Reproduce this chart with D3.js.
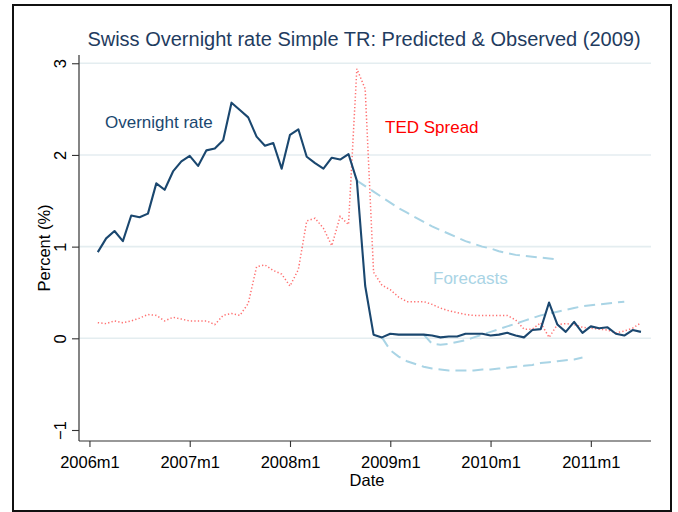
<!DOCTYPE html>
<html>
<head>
<meta charset="utf-8">
<script src="https://cdn.jsdelivr.net/npm/d3@7"></script>
<style>
  html, body { margin: 0; padding: 0; background: #fff; }
  svg { display: block; }
  text { font-family: "Liberation Sans", Arial, Helvetica, sans-serif; }
</style>
</head>
<body>
<svg id="chart" width="678" height="512"></svg>
<script>
// ---- data (month index: 0 = 2006m1) ----
const overnightStart = 1; // 2006m2
const overnight = [
  0.94, 1.09, 1.17, 1.06, 1.34, 1.32, 1.36, 1.69, 1.62, 1.82, 1.93,
  1.99, 1.88, 2.05, 2.07, 2.16, 2.57, 2.49, 2.41, 2.20, 2.10, 2.13, 1.85,
  2.22, 2.28, 1.98, 1.91, 1.85, 1.97, 1.95, 2.01, 1.72, 0.57, 0.04, 0.01,
  0.05, 0.04, 0.04, 0.04, 0.04, 0.03, 0.01, 0.02, 0.02, 0.05, 0.05, 0.05,
  0.03, 0.04, 0.06, 0.03, 0.01, 0.09, 0.10, 0.39, 0.15, 0.07, 0.18, 0.06,
  0.13, 0.11, 0.12, 0.05, 0.03, 0.09, 0.07
];
const tedStart = 1;
const ted = [
  0.17, 0.16, 0.19, 0.17, 0.19, 0.22, 0.26, 0.25, 0.19, 0.23, 0.21,
  0.19, 0.19, 0.19, 0.15, 0.25, 0.27, 0.25, 0.38, 0.78, 0.80, 0.74, 0.70,
  0.57, 0.75, 1.28, 1.31, 1.20, 1.01, 1.33, 1.24, 2.94, 2.72, 0.72, 0.58,
  0.53, 0.45, 0.40, 0.40, 0.40, 0.37, 0.33, 0.30, 0.28, 0.26, 0.25, 0.25,
  0.25, 0.25, 0.25, 0.20, 0.10, 0.10, 0.17, 0.01, 0.15, 0.16, 0.15, 0.12,
  0.11, 0.10, 0.09, 0.06, 0.08, 0.11, 0.17
];
const forecast1Start = 32; // 2008m9
const forecast1 = [
  1.72, 1.66, 1.60, 1.54, 1.48, 1.42, 1.37, 1.32, 1.27, 1.22, 1.18, 1.14,
  1.10, 1.06, 1.03, 1.00, 0.98, 0.95, 0.93, 0.91, 0.90, 0.89, 0.88, 0.87, 0.86
];
const forecast2Start = 35; // 2008m12
const forecast2 = [
  0.01, -0.13, -0.20, -0.25, -0.28, -0.31, -0.33, -0.34, -0.35, -0.35, -0.35,
  -0.35, -0.34, -0.34, -0.33, -0.32, -0.31, -0.30, -0.29, -0.27, -0.26, -0.25,
  -0.24, -0.23, -0.21
];
const forecast3Start = 40; // 2009m5
const forecast3 = [
  0.04, -0.06, -0.07, -0.06, -0.04, -0.02, 0.01, 0.04, 0.07, 0.10, 0.13, 0.16,
  0.19, 0.22, 0.25, 0.27, 0.29, 0.31, 0.33, 0.35, 0.36, 0.37, 0.38, 0.39, 0.40
];
const xTickMonths = [0, 12, 24, 36, 48, 60];
const xTickLabels = ["2006m1", "2007m1", "2008m1", "2009m1", "2010m1", "2011m1"];
const yTicks = [-1, 0, 1, 2, 3];

const titleText = "Swiss Overnight rate Simple TR: Predicted & Observed (2009)";

// ---- layout ----
const svg = d3.select("#chart");
const x = d3.scaleLinear().domain([-1.25, 67.2]).range([79, 651]);
const y = d3.scaleLinear().domain([-1.12, 3.09]).range([441, 55]);

const navy = "#1a476f";
const red = "#ff4040";
const ltblue = "#a9d4e5";

// outer frame
svg.append("rect").attr("x", 13).attr("y", 5).attr("width", 658).attr("height", 506)
  .attr("fill", "#fff").attr("stroke", "#111").attr("stroke-width", 2);

// title
svg.append("text").attr("x", 364).attr("y", 46).attr("text-anchor", "middle")
  .attr("font-size", 20).attr("fill", "#1f3c60").text(titleText);

// gridlines
svg.append("g").selectAll("line").data(yTicks.filter(d => d !== -1)).join("line")
  .attr("x1", x.range()[0]).attr("x2", x.range()[1])
  .attr("y1", d => y(d)).attr("y2", d => y(d))
  .attr("stroke", "#e4edf0").attr("stroke-width", 1.6);

// axes
const yAxis = d3.axisLeft(y).tickValues(yTicks).tickSize(7).tickPadding(4).tickFormat(d3.format("d"));
const gy = svg.append("g").attr("transform", `translate(${x.range()[0]},0)`).call(yAxis);
gy.select(".domain").attr("d", `M0,${y.range()[1]}V${y.range()[0]}`).attr("stroke", "#333").attr("stroke-width", 1.2);
gy.selectAll(".tick line").attr("stroke", "#333").attr("stroke-width", 1.1);
gy.selectAll(".tick text")
  .attr("font-size", 16.5).attr("fill", "#000").attr("x", null).attr("dy", null)
  .attr("text-anchor", "middle")
  .attr("transform", "translate(-13,0) rotate(-90)");

const xAxis = d3.axisBottom(x).tickValues(xTickMonths).tickSize(6).tickPadding(5)
  .tickFormat((d, i) => xTickLabels[i]);
const gx = svg.append("g").attr("transform", `translate(0,${y.range()[0]})`).call(xAxis);
gx.select(".domain").attr("d", `M${x.range()[0]},0H${x.range()[1]}`).attr("stroke", "#333").attr("stroke-width", 1.2);
gx.selectAll(".tick line").attr("stroke", "#333").attr("stroke-width", 1.1);
gx.selectAll(".tick text").attr("font-size", 16.5).attr("fill", "#000").attr("dy", "0.95em");

// axis titles
svg.append("text").attr("transform", `translate(49.5,${(y.range()[0] + y.range()[1]) / 2}) rotate(-90)`)
  .attr("text-anchor", "middle").attr("font-size", 16.5).attr("fill", "#000").text("Percent (%)");
svg.append("text").attr("x", (x.range()[0] + x.range()[1]) / 2 + 2).attr("y", 486)
  .attr("text-anchor", "middle").attr("font-size", 16.5).attr("fill", "#000").text("Date");

// series
const line = d3.line().x(d => x(d[0])).y(d => y(d[1]));
const toPts = (start, vals) => vals.map((v, i) => [start + i, v]);

svg.append("path").datum(toPts(tedStart, ted)).attr("d", line)
  .attr("fill", "none").attr("stroke", red).attr("stroke-width", 1.5)
  .attr("stroke-dasharray", "1.3,2.2").attr("opacity", 0.75);

[[forecast1Start, forecast1], [forecast2Start, forecast2], [forecast3Start, forecast3]].forEach(([s, v]) => {
  svg.append("path").datum(toPts(s, v)).attr("d", line)
    .attr("fill", "none").attr("stroke", ltblue).attr("stroke-width", 2)
    .attr("stroke-dasharray", "11,6");
});

svg.append("path").datum(toPts(overnightStart, overnight)).attr("d", line)
  .attr("fill", "none").attr("stroke", navy).attr("stroke-width", 2.1)
  .attr("stroke-linejoin", "round");

// labels
svg.append("text").attr("x", 105).attr("y", 128).attr("font-size", 17).attr("fill", navy).text("Overnight rate");
svg.append("text").attr("x", 385).attr("y", 133).attr("font-size", 17).attr("fill", "#ff0000").text("TED Spread");
svg.append("text").attr("x", 433).attr("y", 284).attr("font-size", 17).attr("fill", ltblue).text("Forecasts");
</script>
</body>
</html>
